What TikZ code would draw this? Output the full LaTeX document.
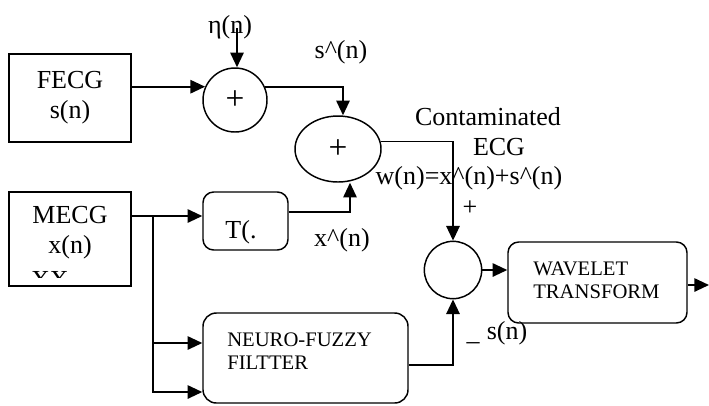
\documentclass[tikz,border=0pt]{standalone}
\usepackage{fontspec}
\setmainfont{Liberation Serif}
\usetikzlibrary{arrows.meta,shapes.geometric}

\begin{document}
\begin{tikzpicture}[x=0.75pt,y=0.75pt,yscale=-1,xscale=1,
	blk/.style={draw,line width=1.1pt,inner sep=0pt},
	rblk/.style={blk,rounded corners=8pt},
	big/.style={font=\fontsize{19.5}{22.5}\selectfont},
	small/.style={font=\fontsize{15.5}{17.5}\selectfont},
	plus/.style={font=\fontsize{25}{25}\selectfont},
	txt/.style={big,inner sep=0pt},
	wire/.style={line width=1.4pt},
	sig/.style={wire,-{Triangle[length=11pt,width=10pt]}}]
	\useasboundingbox (0,0) rectangle (709,405);
	
	%Shape: Rectangle [id:fecg]
	\node [blk,big,align=center,minimum width=91.5pt,minimum height=66pt] (fecg) at (70,98) {FECG\\s(n)};
	%Shape: Rectangle [id:mecg]
	\node [blk,minimum width=91.5pt,minimum height=70.5pt] (mecg) at (70,239) {};
	%Shape: Circle [id:sumA]
	\node [blk,plus,circle,minimum size=48pt] (sumA) at (235,100) {+};
	%Shape: Ellipse [id:sumB]
	\node [blk,plus,ellipse,minimum width=64.5pt,minimum height=49.5pt] (sumB) at (338,149) {+};
	%Shape: Circle [id:sumC]
	\node [blk,circle,minimum size=43pt] (sumC) at (453,270) {};
	%Shape: Rounded Rectangle [id:tbox]
	\node [rblk,minimum width=63.75pt,minimum height=43.5pt] (tbox) at (245.5,221) {};
	%Shape: Rounded Rectangle [id:neuro]
	\node [rblk,rounded corners=10pt,minimum width=153.75pt,minimum height=67.5pt] (neuro) at (305.5,358) {};
	%Shape: Rounded Rectangle [id:wavelet]
	\node [rblk,minimum width=134.25pt,minimum height=60.75pt] (wavelet) at (597.5,282.5) {};
	
	\coordinate (etain) at (237,28);
	\coordinate (split) at (153,216);
	\coordinate (out) at (709,285);
	
	%Straight Lines
	\draw [sig] (etain) -- (sumA.north -| etain);
	\draw [sig] (fecg.east |- sumA.156) -- (sumA.156);
	\draw [sig] (sumA.24) -| ([xshift=3.75pt]sumB.north);
	\draw [sig] (sumB.10) -| (sumC.north);
	\draw [sig] ([yshift=-6.75pt]tbox.east) -| ([xshift=9pt]sumB.south);
	\draw [wire] (mecg.east |- split) -- (split);
	\draw [sig] (split) -- (tbox.west |- split);
	\draw [sig] (split) |- ([yshift=25.5pt]neuro.west);
	\draw [sig] (split) |- ([yshift=-11.25pt]neuro.west);
	\draw [sig] ([yshift=5.25pt]neuro.east) -| (sumC.south);
	\draw [sig] (sumC.east) -- (wavelet.west |- sumC.east);
	\draw [sig] (wavelet.east |- out) -- (out);
	
	% Text Node
	\node [txt] (etalbl) at (230,27) {η(n)};
	% Text Node
	\node [txt] (shatlbl) at (341,52) {s\^{}(n)};
	% Text Node
	\node [txt] (contamlbl) at (488,117) {Contaminated};
	% Text Node
	\node [txt] (ecglbl) at (499,147) {ECG};
	% Text Node
	\node [txt] (wlbl) at (469,178) {w(n)=x\^{}(n)+s\^{}(n)};
	% Text Node
	\node [txt] (pluslbl) at (470,208) {+};
	% Text Node
	\node [txt] (mecglbl) at (70,233) [align=center] {MECG\\x(n)};
	\begin{scope}
		\clip (9,192) rectangle (131,277);
		% Text Node
		\node [txt] (xxlbl) at (50,280) {XX};
	\end{scope}
	% Text Node
	\node [txt] (tlbl) at (241,232) {T(.};
	% Text Node
	\node [txt] (xhatlbl) at (342,240) {x\^{}(n)};
	% Text Node
	\node [small,inner sep=0pt,anchor=west,align=left] (neurolbl) at (227,351) {NEURO-FUZZY\\FILTTER};
	% Text Node
	\node [small,inner sep=0pt,anchor=west,align=left] (waveletlbl) at (533,280) {WAVELET\\TRANSFORM};
	% Text Node
	\node [txt,anchor=base] (minuslbl) at (473,340) {\_};
	% Text Node
	\node [txt] (snlbl) at (507,333) {s(n)};
	
\end{tikzpicture}
\end{document}
